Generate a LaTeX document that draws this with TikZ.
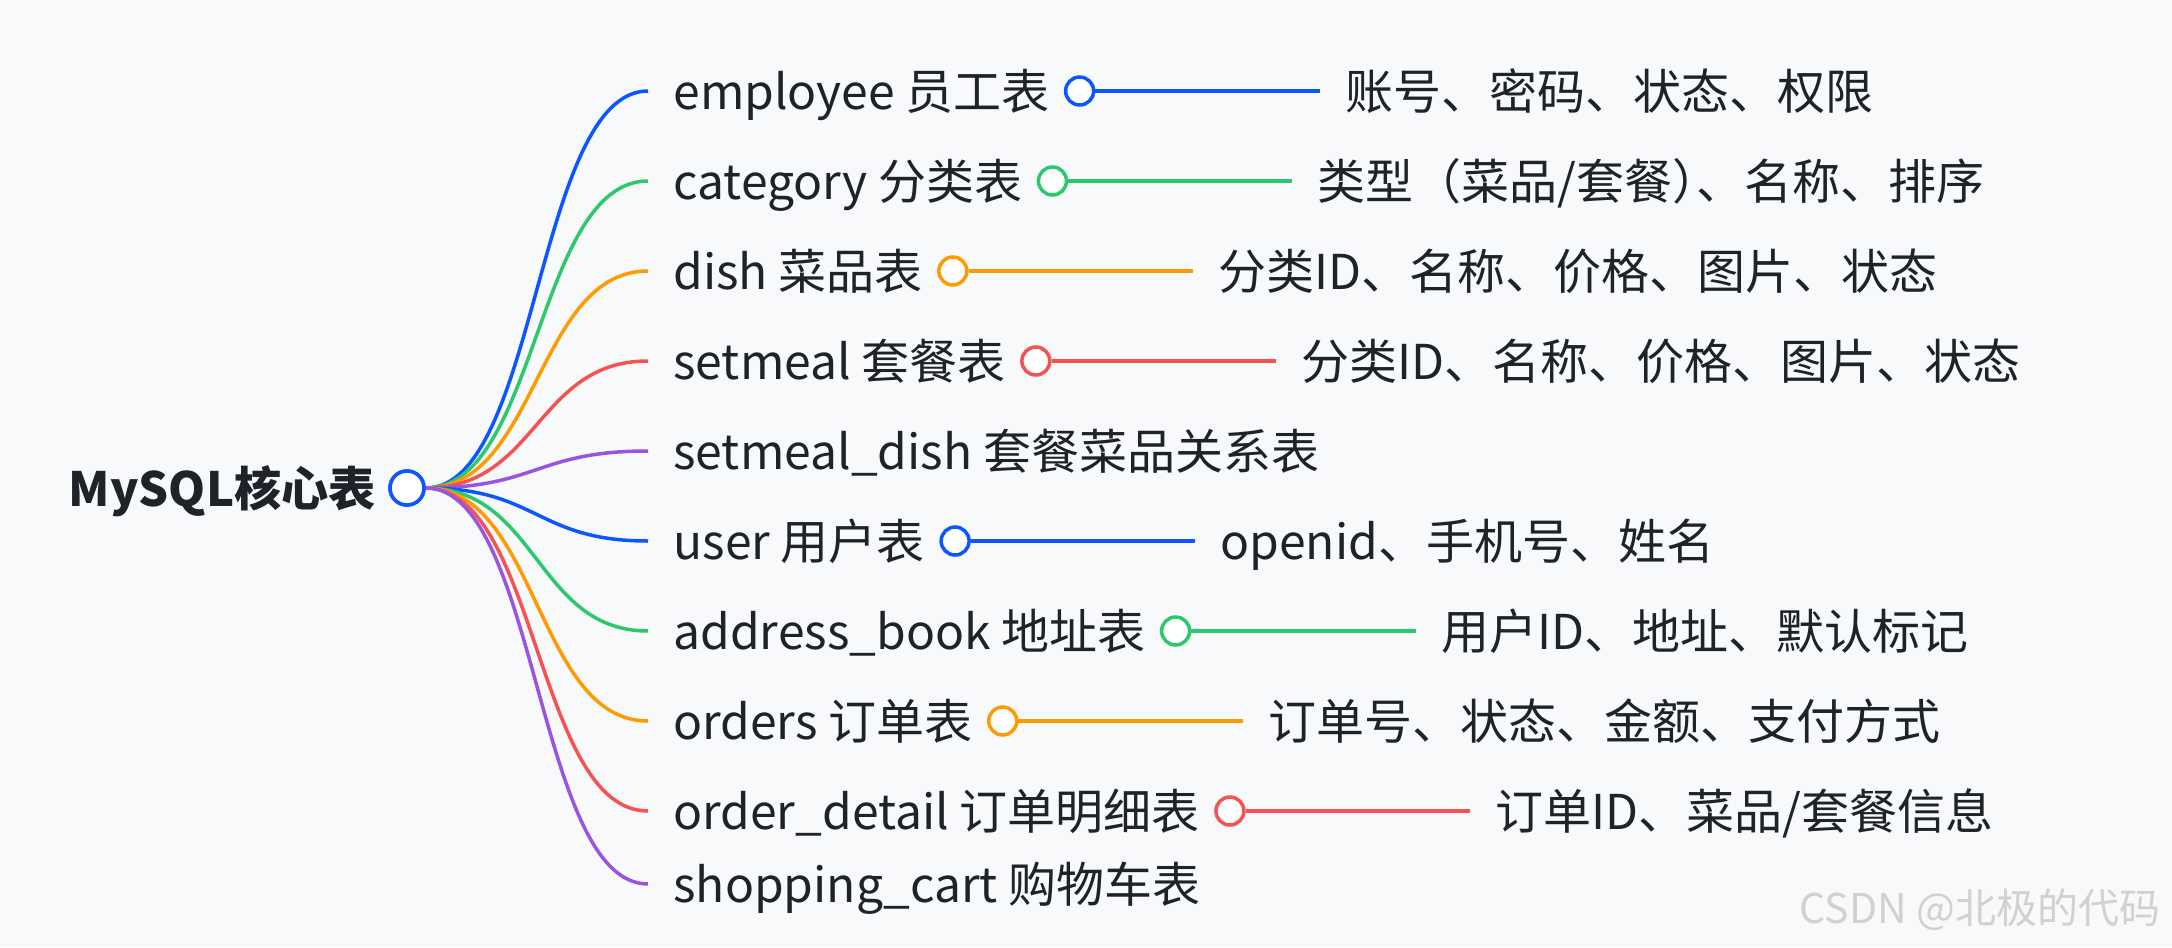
\documentclass[tikz,border=0pt]{standalone}
\usepackage{fontspec}
\setmainfont{Noto Sans CJK SC}
\usetikzlibrary{positioning}
\definecolor{bgcol}{RGB}{248,249,251}
\definecolor{inkcol}{RGB}{31,35,41}
\definecolor{mblue}{RGB}{12,86,255}
\definecolor{mgreen}{RGB}{44,200,108}
\definecolor{morange}{RGB}{255,155,0}
\definecolor{mred}{RGB}{245,82,82}
\definecolor{mpurple}{RGB}{153,84,226}
\begin{document}
\begin{tikzpicture}[x=0.5pt,y=-0.5pt,font=\fontsize{24pt}{28pt}\selectfont,
  branch/.style={line width=1.75pt},
  tbl/.style={inner sep=0pt,text=inkcol,text height=21.1pt,text depth=2.9pt},
  knob/.style={circle,draw=#1,line width=1.75pt,fill=white,minimum size=14pt,inner sep=0pt},
  wmark/.style={inner sep=0pt,text=black!18,font=\fontsize{20.5pt}{24pt}\selectfont}]
\fill[bgcol] (0,0) rectangle (2172,947);
\useasboundingbox (0,0) rectangle (2172,947);
% root
\node[knob=mblue,minimum size=17pt] (root) at (407,488) {};
\node[tbl,font=\fontsize{23.6pt}{28pt}\selectfont\bfseries,left=6pt of root] (rlabel) {MySQL核心表};
% branch ends
\coordinate (k1) at (648,91);
\coordinate (k2) at (648,181);
\coordinate (k3) at (648,271);
\coordinate (k4) at (648,361);
\coordinate (k5) at (648,451);
\coordinate (k6) at (648,541);
\coordinate (k7) at (648,631);
\coordinate (k8) at (648,721);
\coordinate (k9) at (648,811);
\coordinate (k10) at (648,884);
\draw[branch,mblue] (root.east) .. controls +(112,0) and +(-112,0) .. (k1);
\draw[branch,mgreen] (root.east) .. controls +(112,0) and +(-112,0) .. (k2);
\draw[branch,morange] (root.east) .. controls +(112,0) and +(-112,0) .. (k3);
\draw[branch,mred] (root.east) .. controls +(112,0) and +(-112,0) .. (k4);
\draw[branch,mpurple] (root.east) .. controls +(112,0) and +(-112,0) .. (k5);
\draw[branch,mblue] (root.east) .. controls +(112,0) and +(-112,0) .. (k6);
\draw[branch,mgreen] (root.east) .. controls +(112,0) and +(-112,0) .. (k7);
\draw[branch,morange] (root.east) .. controls +(112,0) and +(-112,0) .. (k8);
\draw[branch,mred] (root.east) .. controls +(112,0) and +(-112,0) .. (k9);
\draw[branch,mpurple] (root.east) .. controls +(112,0) and +(-112,0) .. (k10);
\node[knob=mblue,minimum size=17pt] at (root) {};
% tables
\node[tbl,right=12.5pt of k1] (c1) {employee 员工表};
\node[tbl,right=12.5pt of k2] (c2) {category 分类表};
\node[tbl,right=12.5pt of k3] (c3) {dish 菜品表};
\node[tbl,right=12.5pt of k4] (c4) {setmeal 套餐表};
\node[tbl,right=12.5pt of k5] (c5) {setmeal\_dish 套餐菜品关系表};
\node[tbl,right=12.5pt of k6] (c6) {user 用户表};
\node[tbl,right=12.5pt of k7] (c7) {address\_book 地址表};
\node[tbl,right=12.5pt of k8] (c8) {orders 订单表};
\node[tbl,right=12.5pt of k9] (c9) {order\_detail 订单明细表};
\node[tbl,right=12.5pt of k10] (c10) {shopping\_cart 购物车表};
% fields
\node[knob=mblue,right=7pt of c1] (d1) {};
\node[knob=mgreen,right=7pt of c2] (d2) {};
\node[knob=morange,right=7pt of c3] (d3) {};
\node[knob=mred,right=7pt of c4] (d4) {};
\node[knob=mblue,right=7pt of c6] (d6) {};
\node[knob=mgreen,right=7pt of c7] (d7) {};
\node[knob=morange,right=7pt of c8] (d8) {};
\node[knob=mred,right=7pt of c9] (d9) {};
\coordinate (t1) at ([xshift=120pt]d1.center);
\coordinate (t2) at ([xshift=120pt]d2.center);
\coordinate (t3) at ([xshift=120pt]d3.center);
\coordinate (t4) at ([xshift=120pt]d4.center);
\coordinate (t6) at ([xshift=120pt]d6.center);
\coordinate (t7) at ([xshift=120pt]d7.center);
\coordinate (t8) at ([xshift=120pt]d8.center);
\coordinate (t9) at ([xshift=120pt]d9.center);
\draw[branch,mblue] (d1) -- (t1);
\draw[branch,mgreen] (d2) -- (t2);
\draw[branch,morange] (d3) -- (t3);
\draw[branch,mred] (d4) -- (t4);
\draw[branch,mblue] (d6) -- (t6);
\draw[branch,mgreen] (d7) -- (t7);
\draw[branch,morange] (d8) -- (t8);
\draw[branch,mred] (d9) -- (t9);
\node[tbl,right=12.5pt of t1] (f1) {账号、密码、状态、权限};
\node[tbl,right=12.5pt of t2] (f2) {类型（菜品/套餐）\kern-0.5em、名称、排序};
\node[tbl,right=12.5pt of t3] (f3) {分类ID、名称、价格、图片、状态};
\node[tbl,right=12.5pt of t4] (f4) {分类ID、名称、价格、图片、状态};
\node[tbl,right=12.5pt of t6] (f6) {openid、手机号、姓名};
\node[tbl,right=12.5pt of t7] (f7) {用户ID、地址、默认标记};
\node[tbl,right=12.5pt of t8] (f8) {订单号、状态、金额、支付方式};
\node[tbl,right=12.5pt of t9] (f9) {订单ID、菜品/套餐信息};
\node[wmark] (wm) at (1980,910) {CSDN @北极的代码};
\end{tikzpicture}
\end{document}
